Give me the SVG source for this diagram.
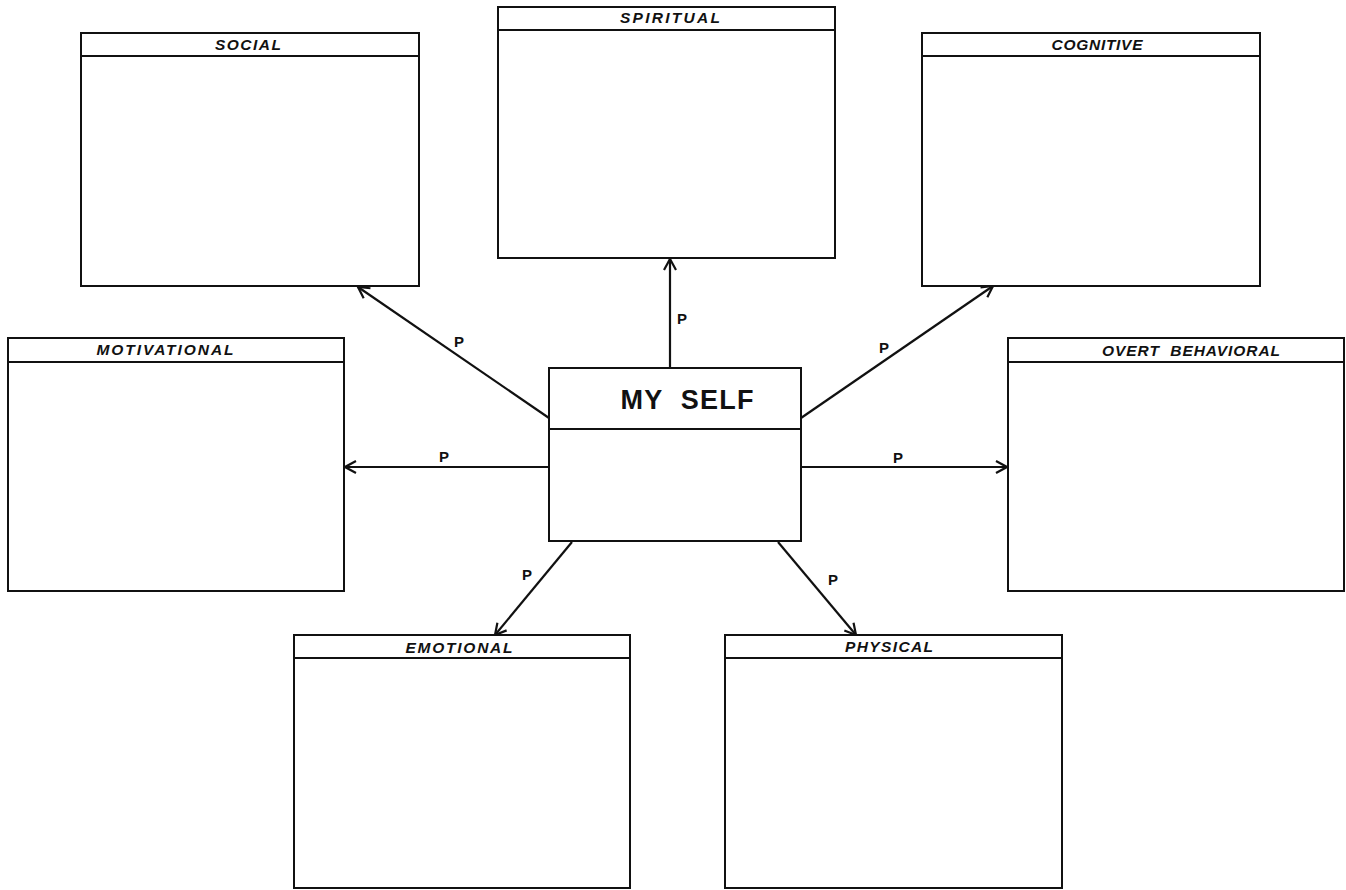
<svg xmlns="http://www.w3.org/2000/svg" width="1346" height="890" viewBox="0 0 1346 890">
  <style>
    .box { fill: #fff; stroke: #111; stroke-width: 2; }
    .rule { stroke: #111; stroke-width: 2; fill: none; }
    .head { font-family: "Liberation Sans", Arial, sans-serif; font-weight: bold; font-style: italic; font-size: 15.5px; fill: #111; text-anchor: middle; white-space: pre; }
    .title { font-family: "Liberation Sans", Arial, sans-serif; font-weight: bold; font-size: 27px; fill: #111; text-anchor: middle; white-space: pre; }
    .lbl { font-family: "Liberation Sans", Arial, sans-serif; font-weight: bold; font-size: 15px; fill: #111; text-anchor: middle; }
    .link { stroke: #111; stroke-width: 2.2; fill: none; marker-end: url(#arrow); }
  </style>
  <defs>
    <marker id="arrow" markerUnits="userSpaceOnUse" markerWidth="16" markerHeight="16" viewBox="0 0 16 16" refX="14" refY="8" orient="auto">
      <path d="M3,2 L14,8 L3,14" fill="none" stroke="#111" stroke-width="2.2"/>
    </marker>
  </defs>
  <rect width="1346" height="890" fill="#fff"/>

  <!-- connectors -->
  <g id="connectors">
    <line class="link" x1="670" y1="368" x2="670" y2="259"/>
    <line class="link" x1="549" y1="418" x2="358" y2="287"/>
    <line class="link" x1="801" y1="418" x2="993" y2="286"/>
    <line class="link" x1="549" y1="467" x2="345" y2="467"/>
    <line class="link" x1="801" y1="467" x2="1007" y2="467"/>
    <line class="link" x1="572" y1="542" x2="495" y2="635"/>
    <line class="link" x1="778" y1="542" x2="856" y2="635"/>
    <text class="lbl" x="682" y="324">P</text>
    <text class="lbl" x="459" y="347">P</text>
    <text class="lbl" x="884" y="353">P</text>
    <text class="lbl" x="444" y="462">P</text>
    <text class="lbl" x="898" y="463">P</text>
    <text class="lbl" x="527" y="580">P</text>
    <text class="lbl" x="833" y="585">P</text>
  </g>

  <g id="social">
    <rect class="box" x="81" y="33" width="338" height="253"/>
    <line class="rule" x1="81" y1="56" x2="419" y2="56"/>
    <text class="head" x="248" y="50" textLength="66" lengthAdjust="spacing">SOCIAL</text>
  </g>

  <g id="spiritual">
    <rect class="box" x="498" y="7" width="337" height="251"/>
    <line class="rule" x1="498" y1="30" x2="835" y2="30"/>
    <text class="head" x="670" y="23" textLength="100" lengthAdjust="spacing">SPIRITUAL</text>
  </g>

  <g id="cognitive">
    <rect class="box" x="922" y="33" width="338" height="253"/>
    <line class="rule" x1="922" y1="56" x2="1260" y2="56"/>
    <text class="head" x="1097" y="50" textLength="91" lengthAdjust="spacing">COGNITIVE</text>
  </g>

  <g id="motivational">
    <rect class="box" x="8" y="338" width="336" height="253"/>
    <line class="rule" x1="8" y1="362" x2="344" y2="362"/>
    <text class="head" x="165" y="355" textLength="137" lengthAdjust="spacing">MOTIVATIONAL</text>
  </g>

  <g id="overt-behavioral">
    <rect class="box" x="1008" y="338" width="336" height="253"/>
    <line class="rule" x1="1008" y1="362" x2="1344" y2="362"/>
    <text class="head" x="1191" y="356" textLength="178" lengthAdjust="spacing">OVERT  BEHAVIORAL</text>
  </g>

  <g id="my-self">
    <rect class="box" x="549" y="368" width="252" height="173"/>
    <line class="rule" x1="549" y1="429" x2="801" y2="429"/>
    <text class="title" x="687" y="409" textLength="133" lengthAdjust="spacing">MY  SELF</text>
  </g>

  <g id="emotional">
    <rect class="box" x="294" y="635" width="336" height="253"/>
    <line class="rule" x1="294" y1="658" x2="630" y2="658"/>
    <text class="head" x="459" y="653" textLength="107" lengthAdjust="spacing">EMOTIONAL</text>
  </g>

  <g id="physical">
    <rect class="box" x="725" y="635" width="337" height="253"/>
    <line class="rule" x1="725" y1="658" x2="1062" y2="658"/>
    <text class="head" x="889" y="652" textLength="88" lengthAdjust="spacing">PHYSICAL</text>
  </g>
</svg>
